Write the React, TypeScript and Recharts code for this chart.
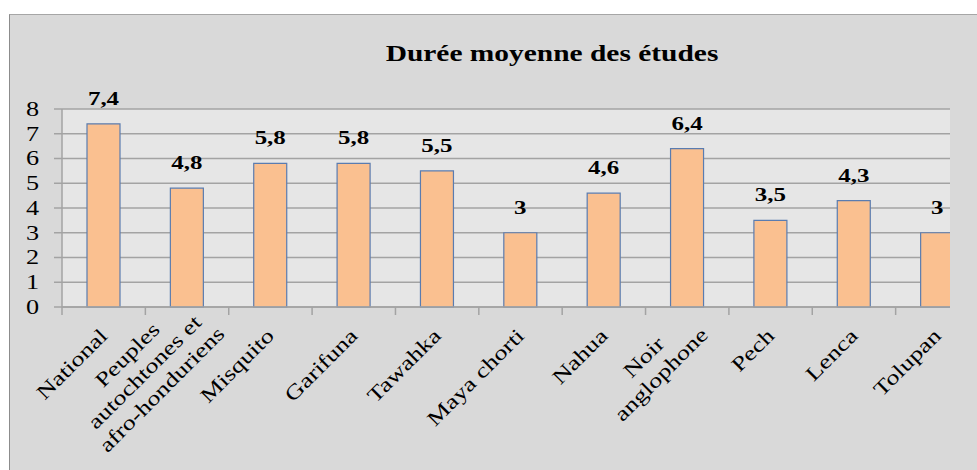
import React from 'react';
import { BarChart, Bar, XAxis, YAxis, CartesianGrid, LabelList } from 'recharts';

const categories = [
  'National',
  'Peuples\nautochtones et\nafro-honduriens',
  'Misquito',
  'Garifuna',
  'Tawahka',
  'Maya chorti',
  'Nahua',
  'Noir\nanglophone',
  'Pech',
  'Lenca',
  'Tolupan',
];
const values = [7.4, 4.8, 5.8, 5.8, 5.5, 3, 4.6, 6.4, 3.5, 4.3, 3];
const yTicks = [0, 1, 2, 3, 4, 5, 6, 7, 8];
const boundaryTicks = [0, 1, 2, 3, 4, 5, 6, 7, 8, 9, 10, 11];
const title = 'Durée moyenne des études';

const data = categories.map((name, i) => ({ name, value: values[i], idx: i + 0.5 }));

const FONT = '"Liberation Serif", "Times New Roman", serif';
const SX = 1.28;
const GRID = '#a3a3a3';

let ctx: CanvasRenderingContext2D | null = null;
function measure(text: string, font: string): number {
  if (!ctx) ctx = document.createElement('canvas').getContext('2d');
  if (!ctx) return text.length * 9;
  ctx.font = font;
  return ctx.measureText(text).width;
}

const XTick = (props: any) => {
  const { x, y, payload } = props;
  const lines = String(payload.value).split('\n');
  const n = lines.length;
  const fs = 20.5;
  const wLast = measure(lines[n - 1], `${fs}px "Liberation Serif"`);
  const lh = 24.4;
  const uc = (n - 1) * 9.9 - wLast / 2;
  return (
    <g transform={`translate(${x + 5},${y + 29}) rotate(-45) scale(${SX},1)`}>
      {lines.map((l, i) => (
        <text
          key={i}
          x={uc}
          y={(n - 1) * 11.25 - (n - 1 - i) * lh}
          textAnchor="middle"
          fontFamily={FONT}
          fontSize={fs}
          fill="#000"
        >
          {l}
        </text>
      ))}
    </g>
  );
};

const YTick = (props: any) => {
  const { x, y, payload } = props;
  const fs = 20.5;
  return (
    <g transform={`translate(${x},${y}) scale(${SX},1)`}>
      <text textAnchor="end" dy={fs * 0.34} fontFamily={FONT} fontSize={fs} fill="#000">
        {payload.value}
      </text>
    </g>
  );
};

const BarLabel = (props: any) => {
  const { x, y, width, value } = props;
  const txt = String(value).replace('.', ',');
  return (
    <g transform={`translate(${Number(x) + Number(width) / 2},${Number(y) - 19}) scale(${SX},1)`}>
      <text textAnchor="middle" fontFamily={FONT} fontWeight="bold" fontSize={19.5} fill="#000">
        {txt}
      </text>
    </g>
  );
};

const NoTick = () => <g />;

export default function App() {
  return (
    <div style={{ position: 'absolute', left: 0, top: 0, width: 977, height: 470, overflow: 'hidden', background: '#fff' }}>
      <div
        style={{
          position: 'absolute',
          left: 9,
          top: 14,
          width: 980,
          height: 470,
          background: '#d9d9d9',
          borderLeft: '1.5px solid #8c8c8c',
          borderTop: '1.5px solid #a6a6a6',
        }}
      />
      <div style={{ position: 'absolute', left: 0, top: 0, width: 950, height: 470, overflow: 'hidden' }}>
        <BarChart
          width={1000}
          height={470}
          data={data}
          margin={{ top: 109, right: 21, left: 0, bottom: 42 }}
          barCategoryGap={0}
        >
          <CartesianGrid xAxisId="z_cat" vertical={false} fill="#e6e6e6" stroke={GRID} strokeWidth={1.5} />
          <XAxis
            xAxisId="a_ticks"
            type="number"
            dataKey="idx"
            domain={[0, 11]}
            ticks={boundaryTicks}
            interval={0}
            allowDataOverflow
            height={1}
            axisLine={{ stroke: GRID, strokeWidth: 1.5 }}
            tickSize={8}
            tickLine={{ stroke: GRID, strokeWidth: 1.5 }}
            tick={<NoTick />}
          />
          <XAxis
            xAxisId="z_cat"
            dataKey="name"
            interval={0}
            height={120}
            tickSize={0}
            tickMargin={0}
            tickLine={false}
            axisLine={false}
            tick={<XTick />}
          />
          <YAxis
            width={62}
            domain={[0, 8]}
            ticks={yTicks}
            interval={0}
            tickSize={8}
            tickMargin={15}
            axisLine={{ stroke: GRID, strokeWidth: 1.5 }}
            tickLine={{ stroke: GRID, strokeWidth: 1.5 }}
            tick={<YTick />}
          />
          <Bar
            xAxisId="z_cat"
            dataKey="value"
            fill="#fac090"
            stroke="#5a7cb0"
            strokeWidth={1.2}
            barSize={33}
            isAnimationActive={false}
          >
            <LabelList dataKey="value" content={<BarLabel />} />
          </Bar>
        </BarChart>
      </div>
      <svg width={977} height={470} style={{ position: 'absolute', left: 0, top: 0, pointerEvents: 'none' }}>
        <g transform={`translate(552,61) scale(${SX},1)`}>
          <text textAnchor="middle" fontFamily={FONT} fontWeight="bold" fontSize={23} fill="#000">
            {title}
          </text>
        </g>
      </svg>
    </div>
  );
}
